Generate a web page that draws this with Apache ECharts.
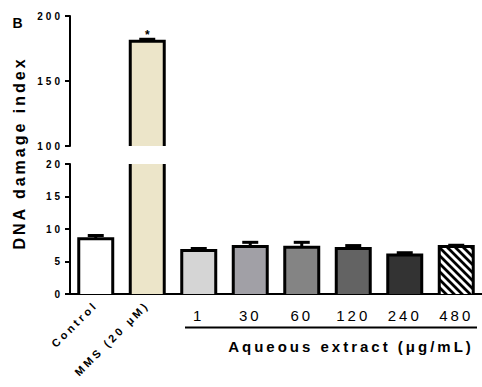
<!DOCTYPE html>
<html>
<head>
<meta charset="utf-8">
<script src="https://cdn.jsdelivr.net/npm/echarts@6/dist/echarts.min.js"></script>
<style>
html,body{margin:0;padding:0;background:#fff;}
#main{width:482px;height:387px;}
#main text{letter-spacing:3px;}
</style>
</head>
<body>
<div id="main"></div>
<script>
// 数据
var categories = ['Control', 'MMS (20 μM)', '1', '30', '60', '120', '240', '480'];
var means = [8.5, 180.5, 6.7, 7.3, 7.2, 7.0, 6.0, 7.3];
var errors = [0.5, 1.6, 0.3, 0.65, 0.75, 0.45, 0.35, 0.2];
var marks = ['', '*', '', '', '', '', '', ''];
var upperTicks = [100, 150, 200];
var lowerTicks = [0, 5, 10, 15, 20];

var FONT = 'Liberation Sans';

//斜线填充
function stripePattern(){
	var c = document.createElement('canvas');
	c.width = 8; c.height = 8;
	var ctx = c.getContext('2d');
	ctx.fillStyle = '#fff';
	ctx.fillRect(0, 0, 8, 8);
	ctx.strokeStyle = '#000';
	ctx.lineWidth = 2.8;
	ctx.beginPath();
	ctx.moveTo(-2, -2); ctx.lineTo(10, 10);
	ctx.moveTo(-2, 6); ctx.lineTo(2, 10);
	ctx.moveTo(6, -2); ctx.lineTo(10, 2);
	ctx.stroke();
	return {image: c, repeat: 'repeat', imageWidth: 8, imageHeight: 8};
}
var fills = ['#ffffff', '#ece5c9', '#d5d5d5', '#a1a0a6', '#848484', '#636363', '#333333', stripePattern()];

var barData = categories.map(function(c, i){
	return [i, means[i], errors[i]];
});

//柱子 + 误差线（断轴两段各画一次）
function drawBar(params, api){
	var i = params.dataIndex;
	var cs = params.coordSys;
	var v = api.value(1), e = api.value(2);
	var base = api.coord([i, 0]);
	var top = api.coord([i, v]);
	var cap = api.coord([i, v + e]);
	var half = api.size([1, 0])[0] * 0.33;
	var x0 = base[0] - half, x1 = base[0] + half;
	var yTop = Math.max(top[1], cs.y);
	var yBot = Math.min(base[1], cs.y + cs.height);
	if (yTop >= yBot) return;
	var cut = top[1] < cs.y;
	var line = {stroke: '#000', lineWidth: 3};
	var kids = [{
		type: 'rect',
		shape: {x: x0, y: yTop, width: x1 - x0, height: yBot - yTop},
		style: {fill: fills[i]}
	}];
	if (!cut) {
		kids.push({type: 'line', shape: {x1: base[0], y1: top[1], x2: base[0], y2: cap[1]}, style: line});
		kids.push({type: 'line', shape: {x1: base[0] - 8, y1: cap[1], x2: base[0] + 8, y2: cap[1]}, style: line});
		kids.push({type: 'polyline', shape: {points: [[x0, yBot], [x0, yTop], [x1, yTop], [x1, yBot]]}, style: {stroke: '#000', lineWidth: 3, fill: null, lineJoin: 'miter'}});
		if (marks[i]) {
			kids.push({type: 'text', style: {text: marks[i], x: base[0] + 1.5, y: cap[1] - 4, align: 'center', verticalAlign: 'middle', textAlign: 'center', textVerticalAlign: 'middle', font: 'bold 12px ' + FONT, fill: '#000'}});
		}
	} else {
		kids.push({type: 'line', shape: {x1: x0, y1: yTop, x2: x0, y2: yBot}, style: line});
		kids.push({type: 'line', shape: {x1: x1, y1: yTop, x2: x1, y2: yBot}, style: line});
	}
	return {type: 'group', children: kids};
}

function yAxisOf(grid, ticks){
	return {
		type: 'value',
		gridIndex: grid,
		min: ticks[0],
		max: ticks[ticks.length - 1],
		interval: ticks[1] - ticks[0],
		axisLine: {show: true, lineStyle: {color: '#000', width: 2}},
		axisTick: {show: true, length: 5, lineStyle: {color: '#000', width: 2}},
		axisLabel: {color: '#000', fontWeight: 'bold', fontSize: 10, fontFamily: FONT, margin: 7},
		splitLine: {show: false}
	};
}

var chart = echarts.init(document.getElementById('main'), null, {renderer: 'svg'});
var option = {
	animation: false,
	backgroundColor: '#fff',
	grid: [
		{left: 70, top: 16, width: 412, height: 130},
		{left: 70, top: 164, width: 412, height: 130}
	],
	xAxis: [
		{type: 'category', gridIndex: 0, data: categories, show: false},
		{
			type: 'category', gridIndex: 1, data: categories, position: 'bottom',
			axisLine: {lineStyle: {color: '#000', width: 2}},
			axisTick: {alignWithLabel: true, length: 5, lineStyle: {color: '#000', width: 2}},
			axisLabel: {
				interval: 0, rotate: 45, margin: 9, color: '#000',
				fontWeight: 'bold', fontSize: 11, fontFamily: FONT,
				formatter: function(val, idx){ return idx < 2 ? val : ''; }
			}
		},
		{
			type: 'category', gridIndex: 1, data: categories, position: 'bottom',
			axisLine: {show: false}, axisTick: {show: false},
			axisLabel: {
				interval: 0, margin: 14, color: '#000', fontSize: 15, fontFamily: FONT,
				formatter: function(val, idx){ return idx >= 2 ? val : ''; }
			}
		}
	],
	yAxis: [yAxisOf(0, upperTicks), yAxisOf(1, lowerTicks)],
	series: [
		{type: 'custom', xAxisIndex: 0, yAxisIndex: 0, renderItem: drawBar, data: barData, encode: {x: 0, y: 1}},
		{type: 'custom', xAxisIndex: 1, yAxisIndex: 1, renderItem: drawBar, data: barData, encode: {x: 0, y: 1}}
	],
	graphic: [
		{type: 'text', x: 19, y: 23, style: {text: 'B', x: 0, y: 0, align: 'center', verticalAlign: 'middle', textAlign: 'center', textVerticalAlign: 'middle', font: 'bold 14px ' + FONT, fill: '#000'}},
		{type: 'text', x: 19, y: 153, rotation: Math.PI / 2, style: {text: 'DNA damage index', x: 0, y: 0, align: 'center', verticalAlign: 'middle', textAlign: 'center', textVerticalAlign: 'middle', font: 'bold 16px ' + FONT, fill: '#000'}},
		{type: 'line', shape: {x1: 185, y1: 327.5, x2: 477, y2: 327.5}, style: {stroke: '#000', lineWidth: 2}},
		{type: 'text', x: 351, y: 346, style: {text: 'Aqueous extract (μg/mL)', x: 0, y: 0, align: 'center', verticalAlign: 'middle', textAlign: 'center', textVerticalAlign: 'middle', font: 'bold 15px ' + FONT, fill: '#000'}}
	]
};
chart.setOption(option);
window.addEventListener('resize', function(){ chart.resize(); });
</script>
</body>
</html>
